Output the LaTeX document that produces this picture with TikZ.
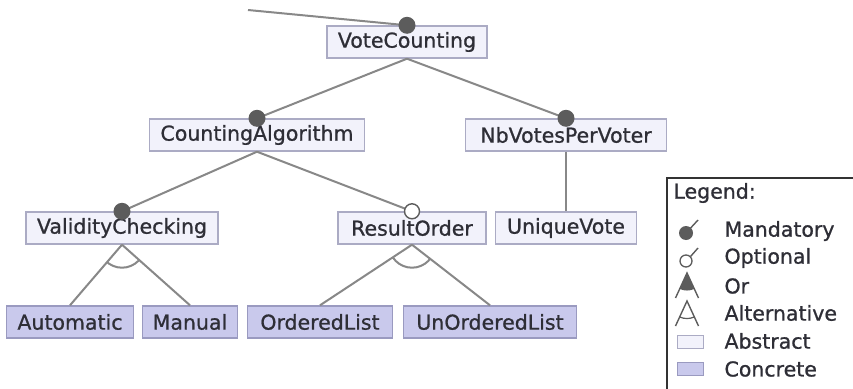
\documentclass[tikz,border=0pt]{standalone}
\usepackage{fontspec}
\setmainfont[FakeBold=0.9]{DejaVu Sans}
\begin{document}
\begin{tikzpicture}[x=1pt,y=-1pt,
  font=\fontsize{20.5}{24}\selectfont,
  feature/.style={draw, line width=1.4pt, minimum height=32pt, inner xsep=0pt, inner ysep=0pt, text=txt, anchor=center},
  abstractf/.style={feature, draw=absborder, fill=absfill},
  concretef/.style={feature, draw=conborder, fill=confill},
  edge/.style={draw=edgegray, line width=2pt},
  mandot/.style={circle, fill=dotgray, inner sep=0pt, minimum size=17pt},
  optdot/.style={circle, draw=dotgray, fill=white, line width=1.4pt, inner sep=0pt, minimum size=15pt},
]
\definecolor{txt}{HTML}{2E2E36}
\definecolor{absborder}{HTML}{ABABC4}
\definecolor{absfill}{HTML}{F2F2FB}
\definecolor{conborder}{HTML}{9A9AC0}
\definecolor{confill}{HTML}{C9C9EC}
\definecolor{edgegray}{HTML}{888888}
\definecolor{dotgray}{HTML}{5C5C5C}

\useasboundingbox (0,0) rectangle (853,388);
\fill[white] (0,0) rectangle (853,388);

% features
\node[abstractf, minimum width=160pt] (vc) at (407,42) {VoteCounting};
\node[abstractf, minimum width=215pt] (ca) at (257,135) {CountingAlgorithm};
\node[abstractf, minimum width=201pt] (nb) at (566,135) {NbVotesPerVoter};
\node[abstractf, minimum width=192pt] (vcheck) at (122,228) {ValidityChecking};
\node[abstractf, minimum width=148pt] (ro) at (412,228) {ResultOrder};
\node[abstractf, minimum width=141pt] (uv) at (566,228) {UniqueVote};
\node[concretef, minimum width=127pt] (auto) at (70,322) {Automatic};
\node[concretef, minimum width=95pt] (man) at (190,322) {Manual};
\node[concretef, minimum width=145pt] (ol) at (320,322) {OrderedList};
\node[concretef, minimum width=173pt] (uol) at (490,322) {UnOrderedList};

% link to the parent above
\coordinate (up) at (248,10);
\path[edge] (up) -- (vc.north);

% children of VoteCounting
\path[edge] (vc.south) -- (ca.north);
\path[edge] (vc.south) -- (nb.north);
% children of CountingAlgorithm
\path[edge] (ca.south) -- (vcheck.north);
\path[edge] (ca.south) -- (ro.north);
% NbVotesPerVoter
\path[edge] (nb.south) -- (uv.north);
% alternative groups
\path[edge] (vcheck.south) -- (auto.north);
\path[edge] (vcheck.south) -- (man.north);
\path[edge] (ro.south) -- (ol.north);
\path[edge] (ro.south) -- (uol.north);
\begin{scope}
  \clip (vcheck.south) -- (auto.north) -- (man.north) -- cycle;
  \draw[edgegray, line width=2pt] (vcheck.south) circle (23pt);
\end{scope}
\begin{scope}
  \clip (ro.south) -- (ol.north) -- (uol.north) -- cycle;
  \draw[edgegray, line width=2pt] (ro.south) circle (23pt);
\end{scope}

% mandatory / optional markers
\node[mandot] (m1) at (vc.north) {};
\node[mandot] (m2) at (ca.north) {};
\node[mandot] (m3) at (nb.north) {};
\node[mandot] (m4) at (vcheck.north) {};
\node[optdot] (o1) at (ro.north) {};

% legend
\draw[black!80, line width=1.5pt] (667,178) rectangle (858,394);
\node[anchor=west, text=txt] (lg) at (670,193) {Legend:};

\node[mandot, minimum size=14pt] (lm) at (686,233) {};
\draw[dotgray, line width=1.4pt] (lm.center) -- (698,220);
\node[anchor=west, text=txt] (tm) at (721,231) {Mandatory};

\node[optdot, minimum size=12pt, line width=1.3pt] (lo) at (686,261) {};
\draw[dotgray, line width=1.4pt] (lo.north east) -- (698,248);
\node[anchor=west, text=txt] (to) at (721,258) {Optional};

\coordinate (orA) at (687,273);
\fill[dotgray] (orA) -- (679.8,289) arc[start angle=245.8, end angle=294.2, radius=17.5pt] -- cycle;
\draw[dotgray, line width=1.4pt] (675.5,298) -- (orA) -- (698.5,298);
\node[anchor=west, text=txt] (tor) at (721,286) {Or};

\coordinate (alA) at (687,301);
\draw[dotgray, line width=1.4pt] (675.5,326) -- (alA) -- (698.5,326);
\draw[dotgray, line width=1.2pt] (679.8,317) arc[start angle=245.8, end angle=294.2, radius=17.5pt];
\node[anchor=west, text=txt] (tal) at (721,313) {Alternative};

\node[draw=absborder, fill=absfill, line width=1pt, minimum width=26pt, minimum height=13pt, inner sep=0pt] (la) at (690,342) {};
\node[anchor=west, text=txt] (tab) at (721,341) {Abstract};
\node[draw=conborder, fill=confill, line width=1pt, minimum width=26pt, minimum height=13pt, inner sep=0pt] (lc) at (690,369) {};
\node[anchor=west, text=txt] (tco) at (721,369) {Concrete};
\end{tikzpicture}
\end{document}
